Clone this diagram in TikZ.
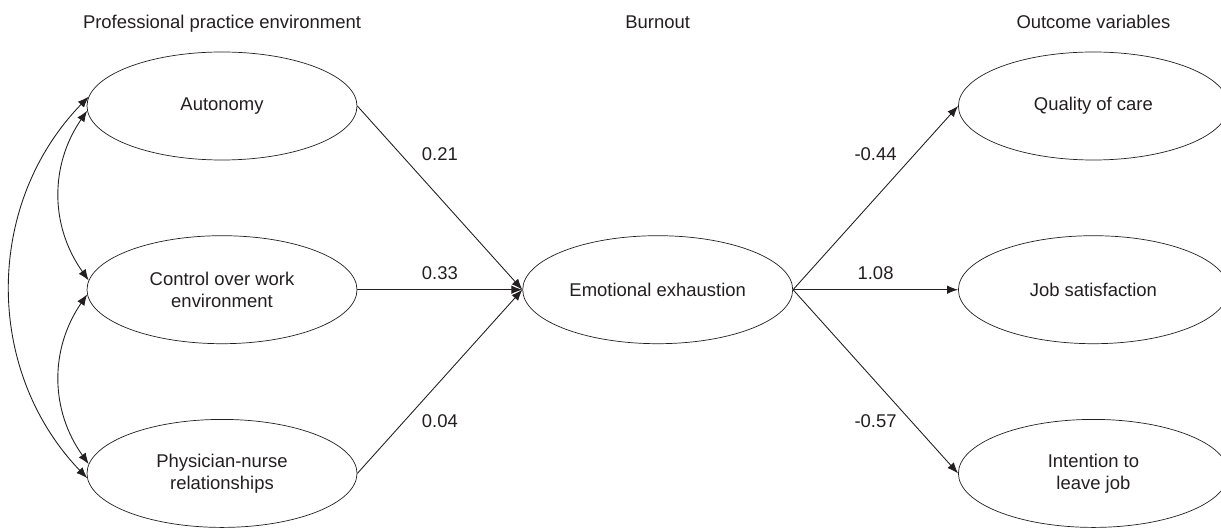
\documentclass[tikz,border=0pt]{standalone}
\usepackage{fontspec}
\setmainfont{Liberation Sans}
\usetikzlibrary{shapes.geometric,positioning,arrows.meta}
\definecolor{ink}{RGB}{35,31,32}

\begin{document}
\begin{tikzpicture}[
  every node/.style={text=ink, font=\fontsize{10.5}{12.6}\selectfont},
  latent/.style={draw=ink, ellipse, minimum width=5.4cm, minimum height=2.16cm,
                 inner sep=0pt, align=center},
  head/.style={inner sep=0pt, text height=0.75em, text depth=0.25em},
  coef/.style={inner sep=0pt},
  effect/.style={draw=ink, line width=0.5pt, -{Latex[length=2.2mm,width=1.7mm]}},
  cov/.style={draw=ink, line width=0.5pt,
              {Latex[length=2.2mm,width=1.7mm]}-{Latex[length=2.2mm,width=1.7mm]}}
]
% fix the page first
\useasboundingbox (0,0) rectangle (24.42,10.56);

% professional practice environment
\node[latent] (aut) at (4.44,8.44) {Autonomy};
\node[latent, below=1.5cm of aut] (ctrl) {Control over work\\environment};
\node[latent, below=1.5cm of ctrl] (phys) {Physician-nurse\\relationships};

% burnout
\node[latent, right=3.3cm of ctrl] (emo) {Emotional exhaustion};

% outcomes
\node[latent, right=3.3cm of emo] (job) {Job satisfaction};
\node[latent, above=1.5cm of job] (qual) {Quality of care};
\node[latent, below=1.5cm of job] (leave) {Intention to\\leave job};

% column headings
\node[head, above=0.36cm of aut] (hppe) {Professional practice environment};
\node[head, above=0.36cm of qual] (hout) {Outcome variables};
\node[head] (hburn) at (hppe -| emo) {Burnout};

% paths into burnout
\draw[effect] (aut.east)  -- node[coef, yshift=0.88cm]  {0.21} (emo.west);
\draw[effect] (ctrl.east) -- node[coef, yshift=0.34cm]  {0.33} (emo.west);
\draw[effect] (phys.east) -- node[coef, yshift=-0.8cm]  {0.04} (emo.west);

% paths out of burnout
\draw[effect] (emo.east) -- node[coef, yshift=0.88cm] {-0.44} (qual.west);
\draw[effect] (emo.east) -- node[coef, yshift=0.34cm] {1.08}  (job.west);
\draw[effect] (emo.east) -- node[coef, yshift=-0.8cm] {-0.57} (leave.west);

% correlations
\draw[cov] (aut.182)  to[bend right=35] (ctrl.176);
\draw[cov] (ctrl.182) to[bend right=35] (phys.176);
\draw[cov] (aut.176)  to[bend right=44] (phys.182);
\end{tikzpicture}
\end{document}
